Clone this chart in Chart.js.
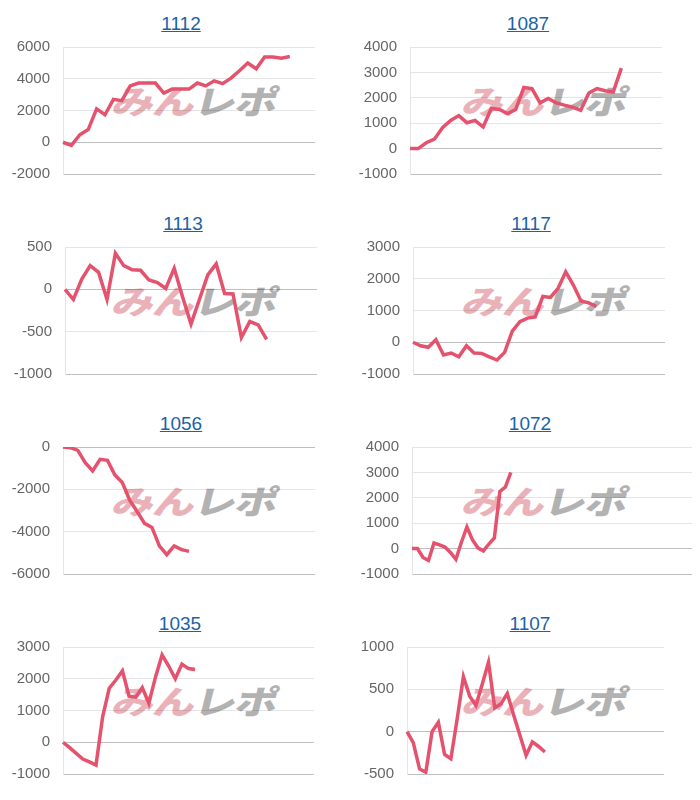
<!DOCTYPE html>
<html>
<head>
<meta charset="utf-8">
<script src="https://cdn.jsdelivr.net/npm/chart.js@4"></script>
<style>
body { margin:0; background:#fff; width:700px; height:800px; position:relative; overflow:hidden; font-family:'Liberation Sans', Arial, sans-serif; }
.cell { position:absolute; width:350px; height:200px; }
.ttl { position:absolute; top:13px; font-size:19px; line-height:22px; color:#1a63a8; text-decoration:underline; transform:translateX(-50%); white-space:nowrap; }
.wm { position:absolute; left:118px; top:84px; font-family:'Noto Sans CJK JP', sans-serif; font-weight:900; font-size:42px; line-height:42px; letter-spacing:-1px; white-space:nowrap; transform:skewX(-14deg) scaleY(0.78); transform-origin:left top; }
.wm .a { color:#eab2b8; }
.wm .b { color:#b2b2b2; }
canvas { position:absolute; left:0; top:30px; }
</style>
</head>
<body>
<script>
// chart titles and number of x slots per chart
const titles = ['1112', '1087', '1113', '1117', '1056', '1072', '1035', '1107'];
const xCounts = [31, 32, 31, 34, 35, 52, 39, 42];

// series values
const values1112 = [0, -200, 470, 800, 2100, 1730, 2700, 2620, 3550, 3730, 3730, 3730, 3100, 3350, 3350, 3350, 3730, 3550, 3870, 3690, 4040, 4500, 4990, 4630, 5370, 5370, 5290, 5400];
const values1087 = [0, 0, 230, 370, 820, 1110, 1300, 1020, 1110, 850, 1580, 1540, 1380, 1540, 2410, 2360, 1800, 1970, 1800, 1710, 1630, 1510, 2190, 2360, 2280, 2230, 3170];
const values1113 = [0, -120, 120, 280, 200, -120, 425, 280, 230, 225, 110, 80, 10, 250, -90, -410, -120, 170, 300, -50, -55, -570, -380, -420, -590];
const values1117 = [0, -110, -160, 80, -400, -340, -460, -110, -340, -350, -460, -560, -320, 350, 650, 760, 800, 1440, 1410, 1700, 2220, 1800, 1300, 1240, 1130];
const values1056 = [0, -30, -160, -740, -1130, -580, -630, -1320, -1680, -2510, -3050, -3610, -3800, -4670, -5090, -4670, -4850, -4930];
const values1072 = [0, 0, -350, -470, 220, 150, 60, -150, -420, 250, 850, 350, 30, -90, 180, 420, 2250, 2420, 3000];
const values1035 = [0, -170, -350, -530, -620, -720, 800, 1700, 1960, 2250, 1450, 1420, 1720, 1230, 2050, 2750, 2400, 2000, 2460, 2320, 2290];
const values1107 = [0, -130, -440, -480, 0, 110, -270, -320, 150, 650, 420, 310, 560, 820, 280, 330, 450, 200, -40, -280, -120, -175, -240];
const series = [values1112, values1087, values1113, values1117, values1056, values1072, values1035, values1107];

// y axis ticks
const yMin = [-2000, -1000, -1000, -1000, -6000, -1000, -1000, -500];
const yMax = [6000, 4000, 500, 3000, 0, 4000, 3000, 1000];
const yStep = [2000, 1000, 500, 1000, 2000, 1000, 1000, 500];

// layout (px inside each 350x200 cell)
const plotLeft = [63, 60, 65, 63, 63, 62, 63, 57];
const plotRight = [315, 312, 317, 315, 315, 342, 314, 314];
const titleX = [181, 178, 183, 181, 181, 180, 180, 180];

titles.forEach((t, i) => {
    var cell = document.createElement('div');
    cell.className = 'cell';
    cell.style.left = (i % 2) * 350 + 'px';
    cell.style.top = Math.floor(i / 2) * 200 + 'px';
    document.body.appendChild(cell);

    var a = document.createElement('a');
    a.className = 'ttl';
    a.textContent = t;
    a.style.left = titleX[i] + 'px';
    cell.appendChild(a);

    var wm = document.createElement('div');
    wm.className = 'wm';
    wm.innerHTML = '<span class="a">みん</span><span class="b">レポ</span>';
    cell.appendChild(wm);

    var canvas = document.createElement('canvas');
    canvas.width = plotRight[i] + 8;
    canvas.height = 160;
    cell.appendChild(canvas);

    var labels = Array.from({ length: xCounts[i] }, (_, k) => k + 1);
    new Chart(canvas.getContext('2d'), {
        type: 'line',
        data: {
            labels: labels,
            datasets: [{
                data: series[i],
                borderColor: 'rgb(228, 82, 110)',
                borderWidth: 3.5,
                pointRadius: 0,
                tension: 0,
                fill: false
            }]
        },
        options: {
            responsive: false,
            animation: false,
            layout: { padding: { top: 17, bottom: 16, right: 8, left: 0 } },
            plugins: { legend: { display: false }, tooltip: { enabled: false } },
            scales: {
                x: { display: false },
                y: {
                    min: yMin[i],
                    max: yMax[i],
                    ticks: {
                        stepSize: yStep[i],
                        padding: 4,
                        color: '#666',
                        font: { size: 15, family: "'Liberation Sans', Arial, sans-serif" },
                        callback: v => String(v)
                    },
                    grid: {
                        tickLength: 9,
                        tickColor: 'rgba(0,0,0,0)',
                        color: ctx => (ctx.tick && (ctx.tick.value === 0 || ctx.index === 0)) ? 'rgba(0,0,0,0.25)' : 'rgba(0,0,0,0.1)'
                    },
                    border: { color: 'rgba(0,0,0,0.1)' },
                    afterFit: axis => { axis.width = plotLeft[i]; }
                }
            }
        }
    });
});
</script>
</body>
</html>
